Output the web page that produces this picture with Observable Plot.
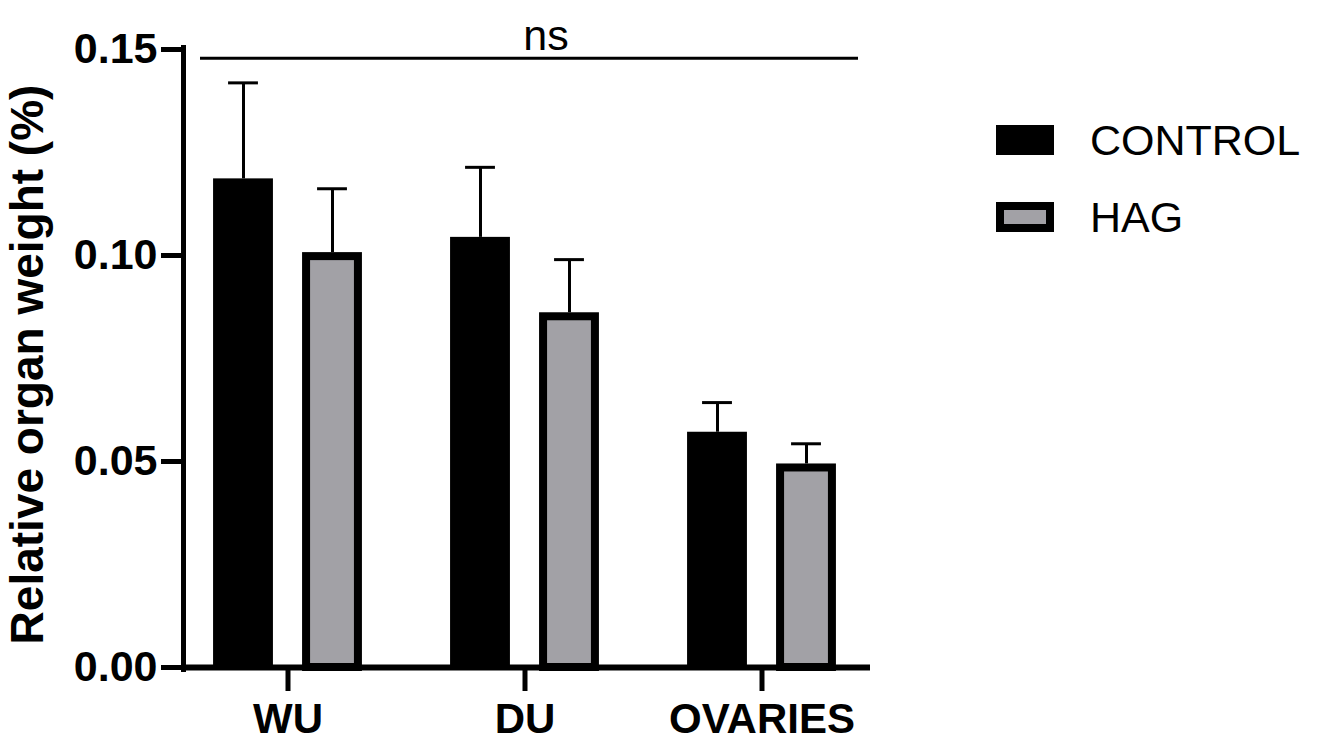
<!DOCTYPE html>
<html>
<head>
<meta charset="utf-8">
<script src="https://cdn.jsdelivr.net/npm/d3@7"></script>
<script src="https://cdn.jsdelivr.net/npm/@observablehq/plot@0.6"></script>
<style>
  html, body { margin: 0; padding: 0; background: #fff; }
  #chart { position: relative; width: 1320px; height: 746px; font-family: "Liberation Sans", Arial, sans-serif; }
  #chart svg { position: absolute; left: 0; top: 0; }
  .legend { position: absolute; left: 996px; top: 120px; }
  .legend .item { position: absolute; left: 0; display: flex; align-items: center; height: 40px; white-space: nowrap; }
  .legend .swatch { box-sizing: border-box; width: 58px; height: 30px; display: inline-block; }
  .legend .label { margin-left: 36px; font-size: 43px; color: #000; line-height: 40px; }
</style>
</head>
<body>
<div id="chart"></div>
<script>
// Relative organ weight (%), mean with upper SD error bar
const organs = ["WU", "DU", "OVARIES"];
const groups = ["CONTROL", "HAG"];
const controlMean = [0.1186, 0.1044, 0.0571];
const controlErr  = [0.0233, 0.0170, 0.0072];
const hagMean     = [0.1007, 0.0861, 0.0494];
const hagErr      = [0.0155, 0.0129, 0.0049];
const yTicks = [0, 0.05, 0.10, 0.15];
const comparison = [{from: "WU", to: "OVARIES", mid: "DU", label: "ns", y: 0.1479}];

const fills = {CONTROL: "#000000", HAG: "#a2a1a6"};

const control = organs.map((organ, i) => ({organ, group: "CONTROL", mean: controlMean[i], err: controlErr[i]}));
const hag = organs.map((organ, i) => ({organ, group: "HAG", mean: hagMean[i], err: hagErr[i]}));

// layout
const width = 1320, height = 746;
const marginLeft = 183, marginRight = 450, marginTop = 47, marginBottom = 77;
const xRange = [169, 880.4];
const step = (xRange[1] - xRange[0]) / organs.length;
const barW = 60, gap = 29, capW = 30, border = 8;
const half = step / 2;
const leftOf = {CONTROL: half - gap / 2 - barW, HAG: half + gap / 2};
const offset = {CONTROL: -(gap / 2 + barW / 2), HAG: gap / 2 + barW / 2};

const font = '"Liberation Sans", Arial, sans-serif';

function errorMarks(data, g) {
  const capLeft = leftOf[g] + (barW - capW) / 2;
  return [
    Plot.ruleX(data, {x: "organ", y1: "mean", y2: d => d.mean + d.err, dx: offset[g], stroke: "#000", strokeWidth: 3}),
    Plot.tickY(data, {x: "organ", y: d => d.mean + d.err, stroke: "#000", strokeWidth: 3,
      insetLeft: capLeft, insetRight: step - capLeft - capW})
  ];
}

const chart = Plot.plot({
  width, height, marginLeft, marginRight, marginTop, marginBottom,
  style: {fontFamily: font, color: "#000", background: "transparent"},
  x: {domain: organs, range: xRange, padding: 0},
  y: {domain: [0, 0.15], range: [667, 49]},
  marks: [
    ...errorMarks(control, "CONTROL"),
    ...errorMarks(hag, "HAG"),
    Plot.barY(control, {x: "organ", y: "mean", fill: fills.CONTROL,
      insetLeft: leftOf.CONTROL, insetRight: step - leftOf.CONTROL - barW}),
    Plot.barY(hag, {x: "organ", y: "mean", fill: fills.HAG, stroke: "#000", strokeWidth: border,
      insetLeft: leftOf.HAG + border / 2, insetRight: step - leftOf.HAG - barW + border / 2, insetTop: border / 2}),
    // axis lines
    Plot.ruleY([0], {stroke: "#000", strokeWidth: 6}),
    Plot.frame({anchor: "left", stroke: "#000", strokeWidth: 5}),
    Plot.axisY(yTicks, {tickSize: 22, tickPadding: 4, strokeWidth: 5, tickFormat: d3.format(".2f"),
      fontSize: 43, fontWeight: "bold", label: null}),
    Plot.axisX({tickSize: 22, tickPadding: 12, strokeWidth: 5, fontSize: 42, fontWeight: "bold", label: null}),
    Plot.text(["Relative organ weight (%)"], {frameAnchor: "left", rotate: -90, dx: -155, dy: 6,
      fontSize: 46, fontWeight: "bold", textAnchor: "middle", lineAnchor: "middle", fill: "#000"}),
    // significance bracket
    Plot.ruleY(comparison, {x1: "from", x2: "to", y: "y", stroke: "#000", strokeWidth: 3, insetLeft: 31, insetRight: 22}),
    Plot.text(comparison, {x: "mid", y: d => d.y, text: "label", dx: 21, dy: -8, lineAnchor: "bottom",
      fontSize: 43, fill: "#000"})
  ]
});

const root = document.getElementById("chart");
root.appendChild(chart);

// legend
const legend = d3.select(root).append("div").attr("class", "legend");
groups.forEach((g, i) => {
  const item = legend.append("div").attr("class", "item").style("top", `${i * 77}px`);
  item.append("span").attr("class", "swatch")
    .style("background", fills[g])
    .style("border", `${g === "HAG" ? border : 0}px solid #000`);
  item.append("span").attr("class", "label").text(g);
});
</script>
</body>
</html>
